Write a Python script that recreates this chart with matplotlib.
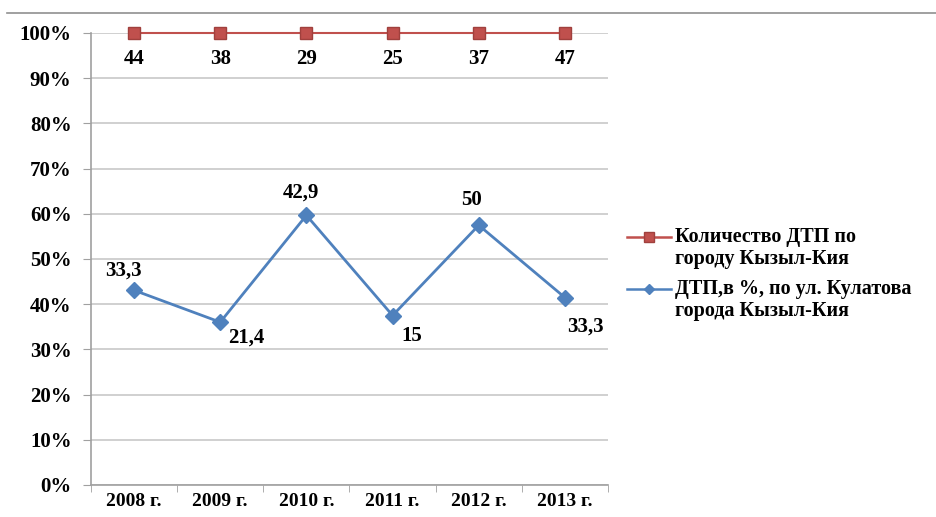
import numpy as np
import matplotlib.pyplot as plt
from matplotlib.lines import Line2D

years = ['2008 г.', '2009 г.', '2010 г.', '2011 г.', '2012 г.', '2013 г.']
total_dtp = [44, 38, 29, 25, 37, 47]
kulatova_pct = [33.3, 21.4, 42.9, 15, 50, 33.3]
kulatova_lbl = ['33,3', '21,4', '42,9', '15', '50', '33,3']

red = '#C0504D'
blue = '#4F81BD'

plt.rcParams['font.family'] = ['Liberation Serif', 'DejaVu Serif']
plt.rcParams['font.weight'] = 'bold'

# 100% stacked lines: each series as share of the column total
tot = np.array(total_dtp, float)
kul = np.array(kulatova_pct, float)
share_kul = kul / (kul + tot)
share_top = (kul + tot) / (kul + tot)

x = np.arange(len(years))
W, H = 937, 517

fig = plt.figure(figsize=(W / 100, H / 100), dpi=100)
ax = fig.add_axes([91 / W, 1 - 485 / H, (608 - 91) / W, (485 - 33) / H])

ax.plot(x, share_top, color=red, lw=1.5, marker='s', ms=9,
        mec='#A0403D', mfc=red, clip_on=False, zorder=4)
ax.plot(x, share_kul, color=blue, lw=2, marker='D', ms=8,
        mec=blue, mfc=blue, clip_on=False, zorder=4)

for xi, yi, v in zip(x, share_top, total_dtp):
    ax.annotate(str(v), (xi, yi), xytext=(0, -19), textcoords='offset points',
                ha='center', va='center', fontsize=15, fontweight='bold')

offsets = [(-8, 14), (19, -11), (-4, 16), (14, -15), (-5, 18), (15, -21)]
for xi, yi, s, off in zip(x, share_kul, kulatova_lbl, offsets):
    ax.annotate(s, (xi, yi), xytext=off, textcoords='offset points',
                ha='center', va='center', fontsize=15, fontweight='bold')

ax.set_xlim(-0.5, len(years) - 0.5)
ax.set_ylim(0, 1)
yt = np.arange(0, 1.01, 0.1)
ax.set_yticks(yt)
ax.set_yticklabels([f'{int(round(t * 100))}%' for t in yt])
ax.set_xticks(x)
ax.set_xticklabels(years)
ax.set_xticks(np.arange(-0.5, len(years)), minor=True)
ax.tick_params(axis='x', which='major', length=0, pad=6, labelsize=14)
ax.tick_params(axis='x', which='minor', length=5, color='#A0A0A0')
ax.tick_params(axis='y', length=6, color='#A0A0A0', pad=8, labelsize=15)

ax.grid(axis='y', color='#C8C8C8', lw=1.2)
ax.set_axisbelow(True)
for side in ('top', 'right'):
    ax.spines[side].set_visible(False)
for side in ('left', 'bottom'):
    ax.spines[side].set_color('#A0A0A0')
    ax.spines[side].set_linewidth(1.2)

# legend drawn by hand so the key sits on the first line of each label
legend_rows = [
    (red, 's', 7, '#A0403D', 237, ['Количество ДТП по', 'городу Кызыл-Кия']),
    (blue, 'D', 5, blue, 289, ['ДТП,в %, по ул. Кулатова', 'города Кызыл-Кия']),
]
for col, mk, ms, mec, ypx, lines in legend_rows:
    yf = 1 - ypx / H
    fig.add_artist(Line2D([627 / W, 671 / W], [yf, yf], color=col, lw=1.8))
    fig.add_artist(Line2D([649 / W], [yf], marker=mk, ms=ms, mfc=col, mec=mec, lw=0))
    for i, line in enumerate(lines):
        fig.text(675 / W, 1 - (ypx + 22 * i) / H, line, ha='left', va='center',
                 fontsize=14.5, fontweight='bold')

# thin rule across the top of the figure
fig.add_artist(Line2D([7 / W, 1], [1 - 13 / H] * 2, color='#909090', lw=1.2))

fig.savefig('out.png', dpi=100)
